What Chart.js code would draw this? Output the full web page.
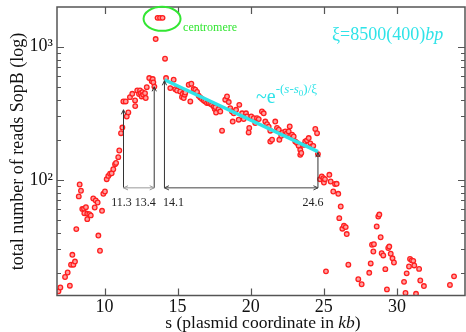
<!DOCTYPE html>
<html>
<head>
<meta charset="utf-8">
<script src="https://cdn.jsdelivr.net/npm/chart.js@4.4.0/dist/chart.umd.min.js"></script>
<style>
  html, body { margin: 0; padding: 0; background: #fff; }
  #wrap { width: 466px; height: 332px; }
</style>
</head>
<body>
<div id="wrap"><canvas id="myChart" width="466" height="332"></canvas></div>
<script>
// SopB reads along the plasmid
const posKb = [
  6.85, 6.98, 7.30, 7.48, 7.63, 7.71, 7.80, 7.87, 7.98, 8.07,
  8.24, 8.30, 8.39, 8.48, 8.60, 8.62, 8.73, 8.82, 8.82, 8.96,
  9.06, 9.23, 9.33, 9.40, 9.53, 9.58, 9.69, 9.83, 9.92, 10.03,
  10.15, 10.26, 10.38, 10.49, 10.60, 10.72, 10.79, 10.94, 11.01, 11.13,
  11.22, 11.29, 11.45, 11.52, 11.63, 11.74, 11.90, 12.09, 12.10, 12.24,
  12.36, 12.43, 12.48, 12.54, 12.59, 12.65, 12.77, 12.82, 12.89, 13.06,
  13.23, 13.30, 13.34, 13.41, 13.50, 13.63, 13.80, 13.97, 14.14,
  14.21, 14.50, 14.73, 14.84, 14.96, 15.18, 15.30, 15.35, 15.42, 15.49,
  15.53, 15.76, 15.87, 15.94, 16.10, 16.21, 16.33, 16.44, 16.55, 16.67,
  16.79, 16.89, 17.01, 17.13, 17.24, 17.35, 17.47, 17.54, 17.58, 17.63,
  17.81, 17.92, 18.04, 18.26, 18.38, 18.50, 18.60, 18.72, 18.77, 18.84,
  19.00, 19.18, 19.22, 19.41, 19.52, 19.68, 19.75, 19.86, 19.90, 20.04,
  20.21, 20.31, 20.43, 20.55, 20.77, 20.89, 21.00, 21.12, 21.23, 21.34,
  21.34, 21.46, 21.68, 21.80, 21.92, 21.96, 22.09, 22.19, 22.37, 22.48,
  22.60, 22.67, 22.83, 22.94, 23.05, 23.17, 23.28, 23.39, 23.39, 23.46,
  23.63, 23.73, 23.85, 23.97, 24.08, 24.19, 24.28, 24.42, 24.54, 24.60,
  24.74, 24.86, 24.97, 25.01, 25.08, 25.15, 25.38, 25.47, 25.65, 25.77,
  25.88, 25.99, 26.06, 26.16, 26.27, 26.38, 26.50, 26.57, 26.68, 27.36,
  27.59, 28.11, 28.21, 28.30, 28.39, 28.43, 28.62, 28.73, 28.80, 28.89,
  28.96, 29.07, 29.21, 29.32, 29.41, 29.48, 29.58, 29.70, 29.80, 30.49,
  30.59, 30.67, 30.83, 30.90, 31.01, 31.12, 31.19, 31.31, 31.52, 31.60,
  31.85, 33.63, 33.91
];
const reads = [
  14.5, 15.5, 18.6, 20.1, 16.0, 23.0, 27.3, 23.0, 24.3, 42.6,
  75.0, 92.2, 82.7, 60.3, 60.6, 56.1, 62.3, 50.6, 55.5, 55.2,
  54.0, 72.4, 61.9, 69.9, 67.5, 38.1, 29.3, 58.5, 78.5, 81.7,
  101, 107, 111, 112, 120, 131, 134, 148, 166, 224,
  247, 388, 388, 299, 321, 418, 443, 395, 358, 469,
  441, 469, 448, 423, 456, 436, 448, 412, 497, 582,
  550, 572, 540, 502, 1143, 1650, 1650, 1650, 813,
  582, 489, 565, 480, 469, 461, 419, 443, 412, 436,
  453, 518, 388, 527, 481, 475, 457, 428, 416, 405,
  395, 388, 377, 377, 373, 366, 355, 340, 352, 320,
  340, 326, 234, 400, 423, 384, 346, 326, 274, 316,
  336, 283, 366, 316, 286, 316, 299, 227, 245, 299,
  291, 267, 291, 286, 326, 316, 274, 262, 251, 234,
  194, 200, 274, 245, 238, 200, 214, 227, 231, 224,
  231, 252, 218, 212, 194, 189, 180, 168, 154, 159,
  183, 194, 198, 206, 188, 178, 180, 241, 224, 156,
  101, 106, 103, 95.4, 101, 20.5, 109, 97.1, 81.7, 93,
  93.3, 78.5, 51.5, 63, 42.9, 45.1, 44.1, 39.1, 23.0, 17.9,
  16.4, 20.0, 23.5, 32.5, 28.9, 32.8, 44.6, 53.0, 54.8, 37.0,
  28.1, 27.0, 21.3, 15.0, 30.7, 31.5, 27.8, 25.7, 23.9, 17.1,
  14.1, 19.8, 22.3, 25.4, 24.8, 24.6, 22.7, 13.9, 21.4, 17.5,
  15.9, 16.2, 18.8
];

// exponential fit, end points (straight on the log axis)
const fitKb = [14.1, 24.6];
const fitReads = [565, 163];

// marked coordinates with their arrows
const markKb = [11.3, 13.4, 14.1, 24.6];
const markLabels = ["11.3", "13.4", "14.1", "24.6"];
const markTop = [336, 500, 555, 160];
const markBase = 87;

// centromere peak
const centroKb = 13.8;
const centroReads = 1650;

const xTicks = [10, 15, 20, 25, 30];
const yMajor = [100, 1000];
const yMinor = [20, 30, 40, 50, 60, 70, 80, 90, 200, 300, 400, 500, 600, 700, 800, 900];

const serif = "'Liberation Serif', 'DejaVu Serif', serif";
const cyan = "#2fe3e8";
const green = "#33e633";

function drawRuns(ctx, runs, x, y, align) {
    let total = 0;
    runs.forEach(r => { ctx.font = r.font; total += ctx.measureText(r.text).width; });
    let cx = align === "center" ? x - total / 2 : x;
    runs.forEach(r => {
        ctx.font = r.font;
        ctx.fillText(r.text, cx, y + (r.dy || 0));
        cx += ctx.measureText(r.text).width;
    });
}

function arrowHead(ctx, x, y, ang) {
    const s = 5;
    ctx.beginPath();
    ctx.moveTo(x + s * Math.cos(ang + 2.7), y + s * Math.sin(ang + 2.7));
    ctx.lineTo(x, y);
    ctx.lineTo(x + s * Math.cos(ang - 2.7), y + s * Math.sin(ang - 2.7));
    ctx.stroke();
}

function arrow(ctx, x1, y1, x2, y2, both) {
    ctx.beginPath();
    ctx.moveTo(x1, y1);
    ctx.lineTo(x2, y2);
    ctx.stroke();
    const ang = Math.atan2(y2 - y1, x2 - x1);
    arrowHead(ctx, x2, y2, ang);
    if (both) arrowHead(ctx, x1, y1, ang + Math.PI);
}

const decor = {
    id: "decor",
    afterDatasetsDraw(chart) {
        const ctx = chart.ctx;
        const a = chart.chartArea;
        const xs = chart.scales.x, ys = chart.scales.y;
        ctx.save();

        // frame + inward ticks on all sides
        ctx.strokeStyle = "#555";
        ctx.lineWidth = 1.5;
        ctx.strokeRect(a.left, a.top, a.right - a.left, a.bottom - a.top);
        ctx.lineWidth = 1.2;
        ctx.beginPath();
        xTicks.forEach(v => {
            const px = Math.round(xs.getPixelForValue(v)) + 0.5;
            ctx.moveTo(px, a.bottom); ctx.lineTo(px, a.bottom - 7);
            ctx.moveTo(px, a.top); ctx.lineTo(px, a.top + 7);
        });
        yMajor.concat(yMinor).forEach(v => {
            const py = Math.round(ys.getPixelForValue(v)) + 0.5;
            const len = yMajor.includes(v) ? 7 : 4;
            ctx.moveTo(a.left, py); ctx.lineTo(a.left + len, py);
            ctx.moveTo(a.right, py); ctx.lineTo(a.right - len, py);
        });
        ctx.stroke();

        // arrows
        const base = ys.getPixelForValue(markBase);
        const mx = markKb.map(v => xs.getPixelForValue(v));
        ctx.lineWidth = 1;
        ctx.strokeStyle = "#333";
        mx.forEach((px, i) => arrow(ctx, px, base, px, ys.getPixelForValue(markTop[i]), false));
        ctx.strokeStyle = "#999";
        arrow(ctx, mx[0], base, mx[1], base, true);
        ctx.strokeStyle = "#444";
        arrow(ctx, mx[2], base, mx[3], base, true);

        ctx.fillStyle = "#222";
        ctx.font = "12px " + serif;
        ctx.textAlign = "center";
        ctx.textBaseline = "middle";
        const shift = [-2, -9, 9, -5];
        markLabels.forEach((t, i) => ctx.fillText(t, mx[i] + shift[i], base + 15));

        // centromere ring
        const cx = xs.getPixelForValue(centroKb), cy = ys.getPixelForValue(centroReads);
        ctx.strokeStyle = green;
        ctx.lineWidth = 2;
        ctx.beginPath();
        ctx.ellipse(cx + 2, cy + 1, 18.5, 12, 0, 0, Math.PI * 2);
        ctx.stroke();
        ctx.fillStyle = green;
        ctx.textAlign = "left";
        ctx.font = "12px " + serif;
        ctx.fillText("centromere", cx + 23, cy + 10);

        // fit annotations
        ctx.fillStyle = cyan;
        ctx.textBaseline = "alphabetic";
        drawRuns(ctx, [
            { text: "ξ=8500(400)", font: "18px " + serif },
            { text: "bp", font: "italic 18px " + serif }
        ], 332, 40, "left");
        drawRuns(ctx, [
            { text: "~e", font: "20px " + serif },
            { text: "-(", font: "13px " + serif, dy: -10 },
            { text: "s", font: "italic 13px " + serif, dy: -10 },
            { text: "-", font: "13px " + serif, dy: -10 },
            { text: "s", font: "italic 13px " + serif, dy: -10 },
            { text: "0", font: "9px " + serif, dy: -7 },
            { text: ")/ξ", font: "13px " + serif, dy: -10 }
        ], 256, 103, "left");

        // axis titles
        ctx.fillStyle = "#111";
        drawRuns(ctx, [
            { text: "s (plasmid coordinate in ", font: "17.5px " + serif },
            { text: "kb", font: "italic 17.5px " + serif },
            { text: ")", font: "17.5px " + serif }
        ], (a.left + a.right) / 2 + 2, 328, "center");
        ctx.save();
        ctx.translate(18, 151.5);
        ctx.rotate(-Math.PI / 2);
        ctx.textAlign = "center";
        ctx.textBaseline = "middle";
        ctx.font = "18px " + serif;
        ctx.fillText("total number of reads SopB (log)", 0, 0);
        ctx.restore();

        ctx.restore();
    }
};

const points = posKb.map((x, i) => ({ x: x, y: reads[i] }));
const fitLine = fitKb.map((x, i) => ({ x: x, y: fitReads[i] }));

const config = {
    type: "scatter",
    data: {
        datasets: [
            {
                type: "line",
                data: fitLine,
                borderColor: cyan,
                borderWidth: 3.5,
                pointRadius: 0,
                order: 0,
            },
            {
                data: points,
                pointRadius: 2.3,
                borderWidth: 1.3,
                borderColor: "#ff1f1f",
                backgroundColor: "#ffa0a0",
                order: 1,
            },
        ],
    },
    options: {
        responsive: false,
        animation: false,
        layout: { autoPadding: false, padding: { top: 7, right: 1, left: 0, bottom: 0 } },
        plugins: {
            legend: { display: false },
            tooltip: { enabled: false },
        },
        scales: {
            x: {
                type: "linear",
                min: 6.75,
                max: 34.66,
                grid: { display: false, drawTicks: false },
                border: { display: false },
                afterBuildTicks: (s) => { s.ticks = xTicks.map(v => ({ value: v })); },
                afterFit: (s) => { s.height = 36.5; s.paddingLeft = 0; s.paddingRight = 0; },
                ticks: {
                    autoSkip: false,
                    maxRotation: 0,
                    padding: 1,
                    color: "#111",
                    font: { family: serif, size: 18 },
                },
            },
            y: {
                type: "logarithmic",
                min: 13.5,
                max: 1990,
                grid: { display: false, drawTicks: false },
                border: { display: false },
                afterBuildTicks: (s) => {
                    s.ticks = yMinor.concat(yMajor).sort((p, q) => p - q).map(v => ({ value: v }));
                },
                afterFit: (s) => { s.width = 57; s.paddingTop = 0; s.paddingBottom = 0; },
                ticks: {
                    autoSkip: false,
                    padding: 4,
                    color: "#111",
                    font: { family: serif, size: 18 },
                    callback: (v) => (v === 100 ? "10²" : v === 1000 ? "10³" : ""),
                },
            },
        },
    },
    plugins: [decor],
};

const ctx = document.getElementById("myChart").getContext("2d");
const chart = new Chart(ctx, config);
</script>
</body>
</html>
